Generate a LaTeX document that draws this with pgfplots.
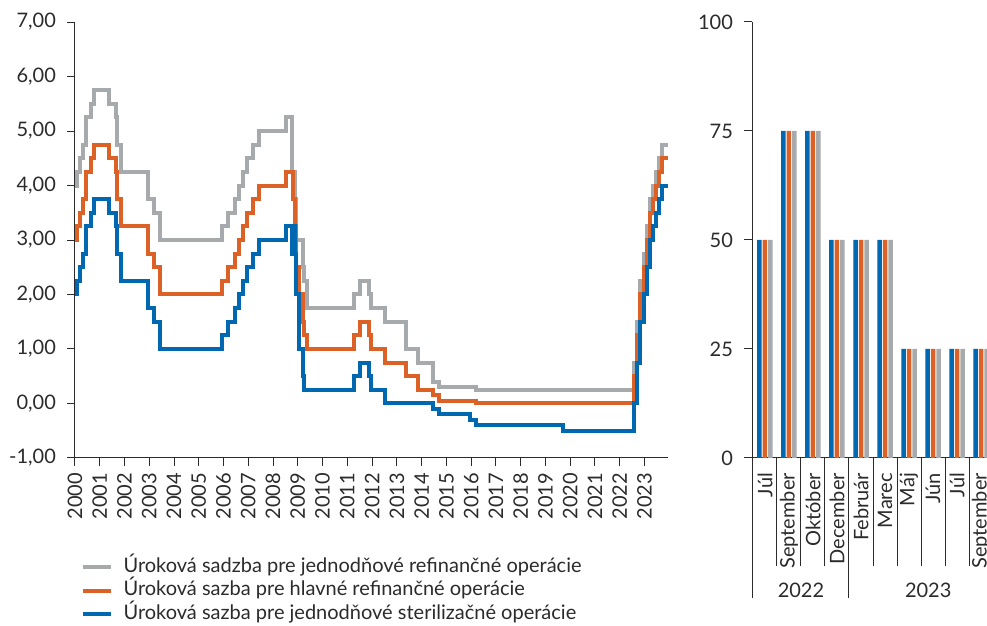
\documentclass[border=0pt]{standalone}
\usepackage{fontspec}
\setmainfont{Lato}
\usepackage{pgfplots}
\pgfplotsset{compat=1.18}
\definecolor{ecbgray}{HTML}{A7AAAD}
\definecolor{ecborange}{HTML}{DC6127}
\definecolor{ecbblue}{HTML}{0067B1}
\definecolor{txt}{HTML}{2B2B2B}

\pgfplotsset{
  common/.style={
    scale only axis,
    axis lines=left,
    axis line style={txt, line width=0.5pt, -},
    tick style={txt, line width=0.5pt},
    tick align=outside,
    major tick length=4pt,
    tick label style={font=\fontsize{10}{11}\selectfont, text=txt},
    yticklabel style={xshift=-2pt},
    /pgf/number format/assume math mode=true,
  },
}

\begin{document}
\begin{tikzpicture}
\useasboundingbox (0,0) rectangle (493.5pt,313pt);
\clip (0,0) rectangle (493.5pt,313pt);

% ---- left panel: policy rates
\begin{axis}[common,
  at={(37.5pt,84pt)}, anchor=south west,
  width=296.5pt, height=218pt,
  xmin=2000, xmax=2023.95, ymin=-1, ymax=7,
  xtick={2000,...,2023},
  xticklabel style={rotate=90, anchor=east, /pgf/number format/set thousands separator={}},
  ytick={-1,0,...,7},
  yticklabel style={/pgf/number format/.cd, fixed, fixed zerofill, precision=2, use comma},
  legend style={at={(0.002,-0.213)}, anchor=north west, draw=none, fill=none,
    inner ysep=2pt, inner xsep=2pt,
    font=\fontsize{10}{11}\selectfont, text=txt, row sep=0pt,
    nodes={inner sep=1pt, text height=7.5pt, text depth=2.25pt},
    /tikz/every odd column/.append style={column sep=4.5pt}},
  legend cell align=left,
  legend image code/.code={\draw[#1, line width=2pt] (0pt,0pt) -- (14pt,0pt);},
  every axis plot/.append style={const plot, line width=2pt, no marks, line join=miter},
]
\addplot[ecbgray] coordinates {
(2000.000,4.00) (2000.095,4.25) (2000.208,4.50) (2000.323,4.75) (2000.438,5.25)
(2000.666,5.50) (2000.762,5.75) (2001.359,5.50) (2001.663,5.25) (2001.712,4.75)
(2001.855,4.25) (2002.929,3.75) (2003.178,3.50) (2003.427,3.00) (2005.929,3.25)
(2006.181,3.50) (2006.452,3.75) (2006.605,4.00) (2006.775,4.25) (2006.948,4.50)
(2007.197,4.75) (2007.447,5.00) (2008.521,5.25) (2008.770,4.75) (2008.773,4.25)
(2008.866,3.75) (2008.942,3.00) (2009.190,2.50) (2009.266,2.25) (2009.362,1.75)
(2011.279,2.00) (2011.529,2.25) (2011.855,2.00) (2011.951,1.75) (2012.526,1.50)
(2013.349,1.00) (2013.866,0.75) (2014.441,0.40) (2014.690,0.30) (2016.205,0.25)
(2022.567,0.75) (2022.701,1.50) (2022.836,2.25) (2022.970,2.75) (2023.104,3.25)
(2023.219,3.75) (2023.353,4.00) (2023.468,4.25) (2023.584,4.50) (2023.718,4.75)
(2023.950,4.75)};
\addlegendentry{Úroková sadzba pre jednodňové refinančné operácie}
\addplot[ecborange] coordinates {
(2000.000,3.00) (2000.095,3.25) (2000.208,3.50) (2000.323,3.75) (2000.438,4.25)
(2000.666,4.50) (2000.762,4.75) (2001.359,4.50) (2001.663,4.25) (2001.712,3.75)
(2001.855,3.25) (2002.929,2.75) (2003.178,2.50) (2003.427,2.00) (2005.929,2.25)
(2006.181,2.50) (2006.452,2.75) (2006.605,3.00) (2006.775,3.25) (2006.948,3.50)
(2007.197,3.75) (2007.447,4.00) (2008.521,4.25) (2008.789,3.75) (2008.866,3.25)
(2008.942,2.50) (2009.055,2.00) (2009.190,1.50) (2009.266,1.25) (2009.362,1.00)
(2011.279,1.25) (2011.529,1.50) (2011.855,1.25) (2011.951,1.00) (2012.526,0.75)
(2013.349,0.50) (2013.866,0.25) (2014.441,0.15) (2014.690,0.05) (2016.205,0.00)
(2022.567,0.50) (2022.701,1.25) (2022.836,2.00) (2022.970,2.50) (2023.104,3.00)
(2023.219,3.50) (2023.353,3.75) (2023.468,4.00) (2023.584,4.25) (2023.718,4.50)
(2023.950,4.50)};
\addlegendentry{Úroková sazba pre hlavné refinančné operácie}
\addplot[ecbblue] coordinates {
(2000.000,2.00) (2000.095,2.25) (2000.208,2.50) (2000.323,2.75) (2000.438,3.25)
(2000.666,3.50) (2000.762,3.75) (2001.359,3.50) (2001.663,3.25) (2001.712,2.75)
(2001.855,2.25) (2002.929,1.75) (2003.178,1.50) (2003.427,1.00) (2005.929,1.25)
(2006.181,1.50) (2006.452,1.75) (2006.605,2.00) (2006.775,2.25) (2006.948,2.50)
(2007.197,2.75) (2007.447,3.00) (2008.521,3.25) (2008.770,2.75) (2008.773,3.25)
(2008.866,2.75) (2008.942,2.00) (2009.055,1.00) (2009.190,0.50) (2009.266,0.25)
(2011.279,0.50) (2011.529,0.75) (2011.855,0.50) (2011.951,0.25) (2012.526,0.00)
(2014.441,-0.10) (2014.690,-0.20) (2015.940,-0.30) (2016.205,-0.40) (2019.715,-0.50)
(2022.567,0.00) (2022.701,0.75) (2022.836,1.50) (2022.970,2.00) (2023.104,2.50)
(2023.219,3.00) (2023.353,3.25) (2023.468,3.50) (2023.584,3.75) (2023.718,4.00)
(2023.950,4.00)};
\addlegendentry{Úroková sazba pre jednodňové sterilizačné operácie}
\end{axis}

% ---- right panel: size of rate changes (bp)
\begin{axis}[common,
  at={(376pt,84pt)}, anchor=south west,
  width=121pt, height=218pt,
  xmin=-0.54, xmax=9.54, ymin=0, ymax=100,
  ytick={0,25,50,75,100},
  xtick={0,...,9},
  xticklabels={Júl,September,Október,December,Február,Marec,Máj,Jún,Júl,September},
  xticklabel style={rotate=90, anchor=east},
  x tick style={draw=none},
  ybar=0.5pt, bar width=2.25pt,
  every axis plot/.append style={draw=none},
  clip=false,
]
\addplot[fill=ecbblue] coordinates {(0,50) (1,75) (2,75) (3,50) (4,50) (5,50) (6,25) (7,25) (8,25) (9,25)};
\addplot[fill=ecborange] coordinates {(0,50) (1,75) (2,75) (3,50) (4,50) (5,50) (6,25) (7,25) (8,25) (9,25)};
\addplot[fill=ecbgray] coordinates {(0,50) (1,75) (2,75) (3,50) (4,50) (5,50) (6,25) (7,25) (8,25) (9,25)};
\pgfplotsinvokeforeach{0.5,1.5,2.5,4.5,5.5,6.5,7.5,8.5}{
  \draw[txt, line width=0.5pt] (axis cs:#1,0) -- ++(0pt,-54pt);
}
\draw[txt, line width=0.5pt] (axis cs:-0.54,0) -- ++(0pt,-70pt);
\draw[txt, line width=0.5pt] (axis cs:3.5,0) -- ++(0pt,-70pt);
\node[font=\fontsize{10}{11}\selectfont, text=txt] at ([yshift=-66pt]axis cs:1.5,0) {2022};
\node[font=\fontsize{10}{11}\selectfont, text=txt] at ([yshift=-66pt]axis cs:6.8,0) {2023};
\end{axis}
\end{tikzpicture}
\end{document}
